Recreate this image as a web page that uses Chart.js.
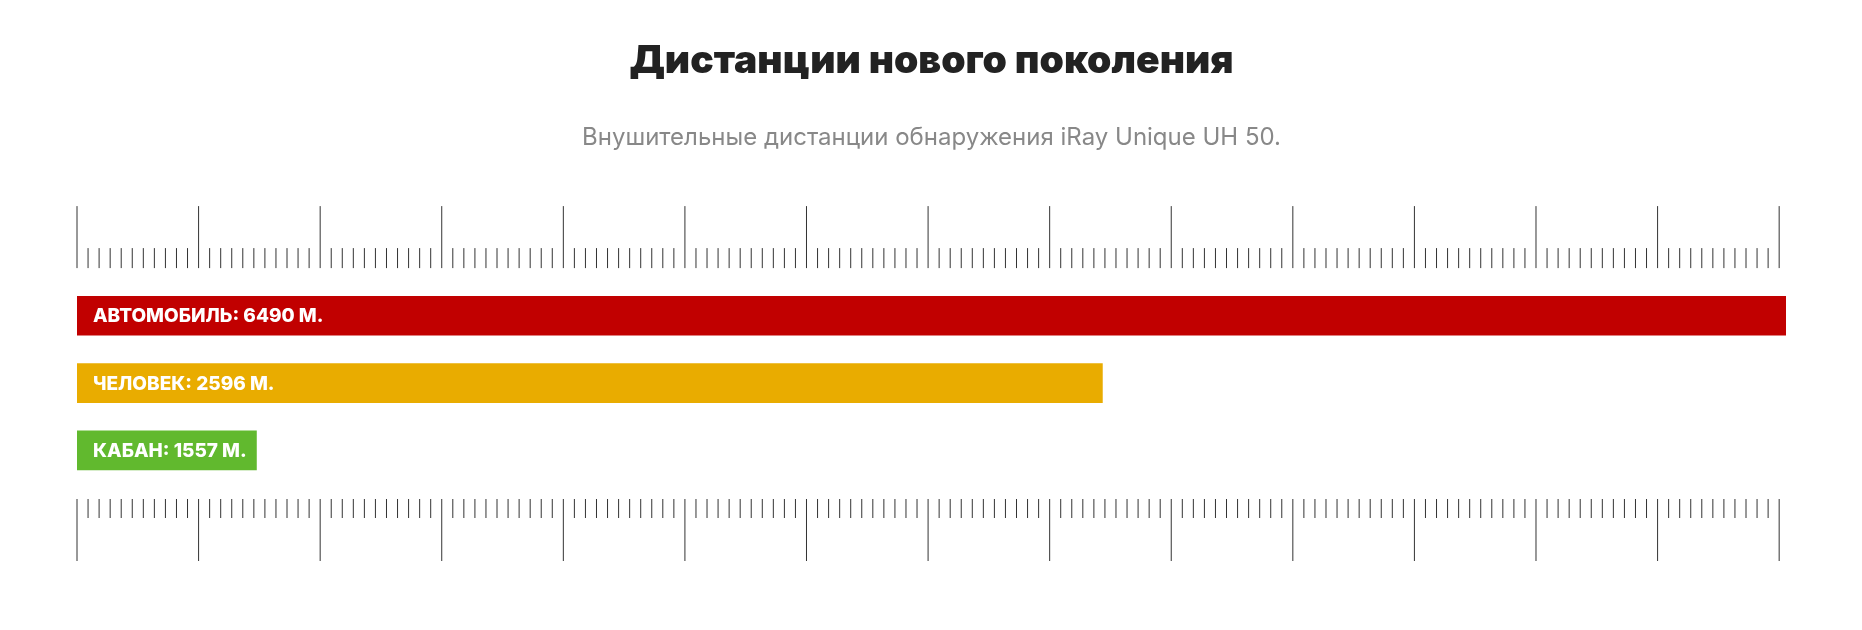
<!DOCTYPE html>
<html>
<head>
<meta charset="utf-8">
<script src="https://cdn.jsdelivr.net/npm/chart.js@4/dist/chart.umd.min.js"></script>
<style>
  html, body { margin: 0; padding: 0; background: #fff; }
  #wrap { width: 1862px; height: 630px; }
</style>
</head>
<body>
<div id="wrap"><canvas id="chart"></canvas></div>
<script>
const titleText = 'Дистанции нового поколения';
const subtitleText = 'Внушительные дистанции обнаружения iRay Unique UH 50.';

const categories = ['АВТОМОБИЛЬ', 'ЧЕЛОВЕК', 'КАБАН'];
const distances = [6490, 2596, 1557];
// bar length as % of the full track
const barLengths = [100, 60, 10.5];
const barColors = ['#c10000', '#e9ac00', '#61b92e'];

// ruler: 14 big divisions, 11 small steps each, ends a bit short of the track
const rulerMajors = 14;
const rulerMinorPerMajor = 11;
const rulerEnd = 99.6;

const rulerPlugin = {
  id: 'ruler',
  afterDraw(chart) {
    const { ctx, chartArea, scales } = chart;
    const x = scales.x;
    const steps = rulerMajors * rulerMinorPerMajor;
    ctx.save();
    ctx.strokeStyle = '#333';
    ctx.lineWidth = 1;
    for (let i = 0; i <= steps; i++) {
      const px = x.getPixelForValue(rulerEnd * i / steps);
      const major = i % rulerMinorPerMajor === 0;
      // top ruler
      let base = chartArea.top - 14;
      ctx.beginPath();
      ctx.moveTo(px, base);
      ctx.lineTo(px, base - (major ? 62 : 20));
      ctx.stroke();
      // bottom ruler
      base = chartArea.bottom + 15;
      ctx.beginPath();
      ctx.moveTo(px, base);
      ctx.lineTo(px, base + (major ? 62 : 19));
      ctx.stroke();
    }
    ctx.restore();
  }
};

const barLabelPlugin = {
  id: 'barLabels',
  afterDatasetsDraw(chart) {
    const { ctx } = chart;
    const meta = chart.getDatasetMeta(0);
    ctx.save();
    ctx.fillStyle = '#fff';
    ctx.font = '800 19px Inter, "Open Sans", sans-serif';
    ctx.textBaseline = 'middle';
    ctx.textAlign = 'left';
    meta.data.forEach((bar, i) => {
      ctx.fillText(categories[i] + ': ' + distances[i] + ' М.', bar.base + 16, bar.y + 1);
    });
    ctx.restore();
  }
};

new Chart(document.getElementById('chart'), {
  type: 'bar',
  data: {
    labels: categories,
    datasets: [{
      data: barLengths,
      backgroundColor: barColors,
      borderWidth: 0,
      barThickness: 39
    }]
  },
  options: {
    indexAxis: 'y',
    responsive: true,
    maintainAspectRatio: false,
    animation: false,
    layout: { padding: { left: 77, right: 76, top: 0, bottom: 146 } },
    scales: {
      x: { display: false, min: 0, max: 100 },
      y: { display: false }
    },
    plugins: {
      legend: { display: false },
      tooltip: { enabled: false },
      title: {
        display: true,
        text: titleText,
        color: '#222',
        font: { family: 'Inter, "Open Sans", sans-serif', size: 39, weight: '900', lineHeight: 1.2 },
        padding: { top: 38, bottom: 39 }
      },
      subtitle: {
        display: true,
        text: subtitleText,
        color: '#888',
        font: { family: 'Inter, "Open Sans", sans-serif', size: 24, weight: '400', lineHeight: 1.2 },
        padding: { top: 0, bottom: 129.5 }
      }
    }
  },
  plugins: [rulerPlugin, barLabelPlugin]
});
</script>
</body>
</html>
